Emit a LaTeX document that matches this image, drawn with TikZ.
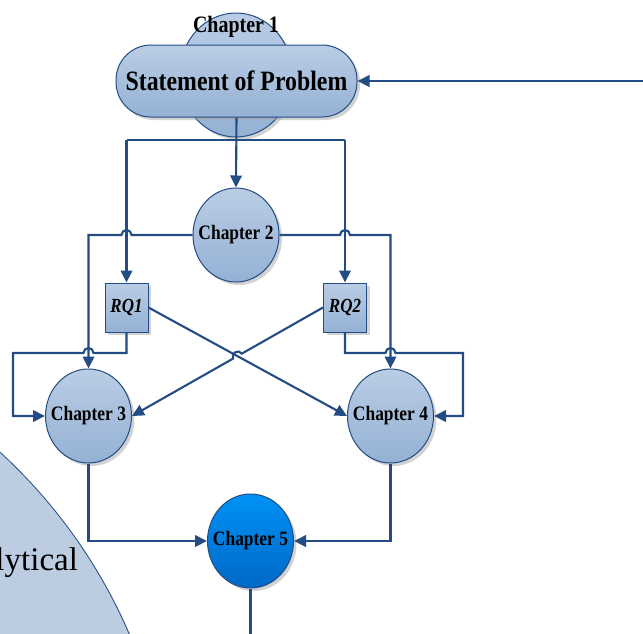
\documentclass[tikz,border=0pt]{standalone}
\usepackage{fontspec}
\setmainfont{Liberation Serif}
\newfontfamily\headfont[FakeStretch=0.85]{Liberation Serif}
\usetikzlibrary{arrows.meta,shapes.geometric,shadows,calc}

\definecolor{linkblue}{RGB}{36,76,132}
\definecolor{chtop}{RGB}{186,205,228}
\definecolor{chbot}{RGB}{148,177,213}
\definecolor{fivetop}{RGB}{0,146,245}
\definecolor{fivebot}{RGB}{0,104,198}
\definecolor{bigfill}{RGB}{188,205,226}

\newcommand{\chapfont}{\headfont\bfseries\fontsize{20.5}{22}\selectfont}
\newcommand{\rqfont}{\headfont\bfseries\itshape\fontsize{20}{22}\selectfont}

\begin{document}
\begin{tikzpicture}[x=1pt, y=-1pt, ->, >={Triangle[length=12pt, width=11.5pt]}, line width=2.1pt, color=linkblue,
  bluebody/.style={draw=linkblue, line width=1pt, top color=chtop, bottom color=chbot,
    drop shadow={shadow xshift=3pt, shadow yshift=-3pt, fill=black!35}},
  chapter/.style={bluebody, ellipse, minimum width=86pt, minimum height=94pt, inner xsep=-10pt, font=\chapfont},
  rq/.style={bluebody, rectangle, minimum width=43pt, minimum height=49pt, inner sep=0pt, font=\rqfont}]
  \tikzstyle{every node}=[text=black]

  \useasboundingbox (0,0) rectangle (643,633);
  \clip (0,0) rectangle (643,633);

  % methods circle in the corner
  \node[circle, draw=linkblue, line width=0.8pt, fill=bigfill, minimum size=1060pt,
        drop shadow={shadow xshift=2pt, shadow yshift=-2pt, fill=black!25}] (method) at (-358,843) {};
  \node[font=\fontsize{33}{36}\selectfont, anchor=base east, inner sep=0pt] (methodtext) at (79,570) {Analytical};

  \node[chapter, minimum width=113pt, minimum height=124pt] (ch1) at (236,75) {};
  \node[bluebody, rectangle, rounded corners=35pt, minimum width=241pt, minimum height=72pt, inner sep=0pt,
        font=\headfont\bfseries\fontsize{28}{30}\selectfont] (problem) at (236.5,81) {Statement of Problem};
  \node[font=\headfont\bfseries\fontsize{23.5}{25}\selectfont, anchor=base] (ch1text) at (236,32) {Chapter 1};

  \node[chapter] (ch2) at (236,235) {Chapter 2};
  \node[rq]      (rq1) at (126.5,307.5) {RQ1};
  \node[rq]      (rq2) at (345,307.5) {RQ2};
  \node[chapter] (ch3) at (88.5,416) {Chapter 3};
  \node[chapter] (ch4) at (390.5,416) {Chapter 4};
  \node[chapter, top color=fivetop, bottom color=fivebot] (ch5) at (250.5,541) {Chapter 5};

  \coordinate (feed)  at (650,81);
  \coordinate (split) at (236,140);
  \coordinate (low)   at (0,353);
  \coordinate (lowL)  at (13,353);
  \coordinate (lowR)  at (463,353);
  \coordinate (out5)  at (250.5,640);

  \draw (feed) -- (problem.east);
  \draw (problem.south) -- (ch2.north);
  \draw[-] (rq1.north |- split) -- (rq2.north |- split);
  \draw (rq1.north |- split) -- (rq1.north);
  \draw (rq2.north |- split) -- (rq2.north);

  % chapter 2 down to 3 and 4, hopping over the RQ wires
  \draw (ch2.west) -- ([xshift=5pt]rq1.north |- ch2.west) arc[start angle=0, end angle=180, radius=5pt]
        -- (ch3.north |- ch2.west) -- (ch3.north);
  \draw (ch2.east) -- ([xshift=-5pt]rq2.north |- ch2.east) arc[start angle=180, end angle=0, radius=5pt]
        -- (ch4.north |- ch2.east) -- (ch4.north);

  % RQ loops into the outer sides
  \draw (rq1.south) -- (rq1.south |- low) -- ([xshift=5pt]ch3.north |- low)
        arc[start angle=0, end angle=180, radius=5pt] -- (lowL) |- (ch3.west);
  \draw (rq2.south) -- (rq2.south |- low) -- ([xshift=-5pt]ch4.north |- low)
        arc[start angle=180, end angle=0, radius=5pt] -- (lowR) |- (ch4.east);

  % crossing
  \draw (rq1.east) -- (ch4.west);
  \coordinate (cross) at (intersection of rq1.east--ch4.west and rq2.west--ch3.east);
  \draw (rq2.west) -- ($(cross)!5pt!(rq2.west)$) to[bend right=90, looseness=1.5] ($(cross)!5pt!(ch3.east)$) -- (ch3.east);

  \draw (ch3.south) |- (ch5.west);
  \draw (ch4.south) |- (ch5.east);
  \draw[-] (ch5.south) -- (out5);
\end{tikzpicture}
\end{document}
